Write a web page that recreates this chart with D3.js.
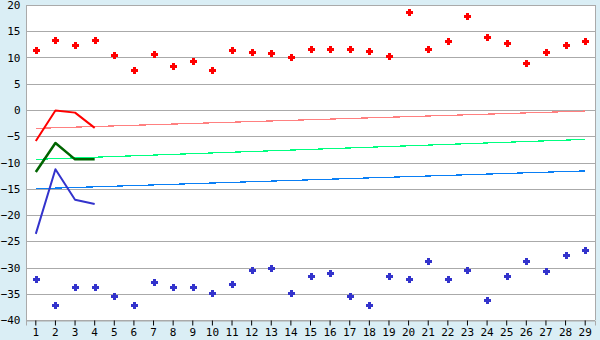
<!DOCTYPE html>
<html><head><meta charset="utf-8">
<script src="https://cdn.jsdelivr.net/npm/d3@7/dist/d3.min.js"></script>
<style>html,body{margin:0;padding:0;background:#daeef5;}svg{display:block;}</style>
</head><body>
<svg id="c" width="600" height="340"></svg>
<script>
const categories = d3.range(1, 30).map(String);
const yTicks = [-40, -35, -30, -25, -20, -15, -10, -5, 0, 5, 10, 15, 20];
const redPoints = [11.5, 13.3, 12.3, 13.3, 10.4, 7.7, 10.6, 8.3, 9.4, 7.7, 11.5, 11.0, 10.8, 10.0,
  11.7, 11.7, 11.7, 11.2, 10.2, 18.6, 11.7, 13.1, 17.9, 13.9, 12.7, 8.9, 11.0, 12.3, 13.1];
const bluePoints = [-32.2, -37.2, -33.8, -33.8, -35.5, -37.2, -32.8, -33.8, -33.8, -34.9, -33.2, -30.5, -30.0, -34.9,
  -31.7, -31.1, -35.5, -37.2, -31.7, -32.2, -28.8, -32.2, -30.5, -36.1, -31.7, -28.8, -30.7, -27.7, -26.7];
const lineCats = ["1", "2", "3", "4"];
const redLine = [-5.9, -0.1, -0.5, -3.4];
const greenLine = [-11.8, -6.3, -9.4, -9.4];
const blueLine = [-23.6, -11.3, -17.1, -17.9];
const trendCats = ["1", "29"];
const redTrend = [-3.5, -0.2];
const greenTrend = [-9.4, -5.6];
const blueTrend = [-15.0, -11.6];

const svg = d3.select("#c");
const L = 26, R = 595, T = 5, B = 320;
const x = d3.scaleBand().domain(categories).range([L, R]);
const cx = c => x(c) + x.bandwidth() / 2;
const y = d3.scaleLinear().domain([-40, 20]).range([B, T]);

svg.append("rect").attr("x", L).attr("y", T).attr("width", R - L).attr("height", B - T).attr("fill", "#fff");

svg.append("g").selectAll("line").data(yTicks).join("line")
  .attr("x1", L).attr("x2", R).attr("y1", d => Math.round(y(d)) + 0.5).attr("y2", d => Math.round(y(d)) + 0.5)
  .attr("stroke", "#aaaaaa").attr("stroke-width", 1);
svg.append("line").attr("x1", R + 0.5).attr("x2", R + 0.5).attr("y1", T).attr("y2", B).attr("stroke", "#aaaaaa");
svg.append("line").attr("x1", L + 0.5).attr("x2", L + 0.5).attr("y1", T).attr("y2", B).attr("stroke", "#aaaaaa");

const yAxis = d3.axisLeft(y).tickValues(yTicks).tickSize(0).tickPadding(5).tickFormat(d3.format("d"));
const gy = svg.append("g").attr("transform", `translate(${L - 0.5},0)`).call(yAxis);
gy.select(".domain").remove();
gy.selectAll("text").attr("font-family", "DejaVu Sans Mono").attr("font-size", 11).attr("fill", "#000");

const xAxis = d3.axisBottom(x).tickSize(5).tickPadding(3);
const gx = svg.append("g").attr("transform", `translate(0,${B + 0.5})`).call(xAxis);
gx.select(".domain").attr("stroke", "#aaaaaa");
gx.selectAll(".tick line").attr("stroke", "#000");
gx.selectAll("text").attr("font-family", "DejaVu Sans Mono").attr("font-size", 11).attr("fill", "#000");

function trend(vals, color) {
  svg.append("path").datum(vals)
    .attr("d", d3.line().x((d, i) => cx(trendCats[i])).y(d => y(d)))
    .attr("fill", "none").attr("stroke", color).attr("stroke-width", 1.2).attr("shape-rendering", "crispEdges");
}
trend(redTrend, "#ff8080");
trend(greenTrend, "#00ff80");
trend(blueTrend, "#0a7ff5");

function line(vals, color, w) {
  svg.append("path").datum(vals)
    .attr("d", d3.line().x((d, i) => cx(lineCats[i])).y(d => y(d)))
    .attr("fill", "none").attr("stroke", color).attr("stroke-width", w).attr("stroke-linejoin", "round");
}
line(redLine, "#ff0000", 2);
line(greenLine, "#006400", 2.5);
line(blueLine, "#3333cc", 2);

// bold plus marker: 7x7 with 3px arms
const markerType = {
  draw(ctx) {
    ctx.moveTo(-1.5, -3.5); ctx.lineTo(1.5, -3.5); ctx.lineTo(1.5, -1.5); ctx.lineTo(3.5, -1.5);
    ctx.lineTo(3.5, 1.5); ctx.lineTo(1.5, 1.5); ctx.lineTo(1.5, 3.5); ctx.lineTo(-1.5, 3.5);
    ctx.lineTo(-1.5, 1.5); ctx.lineTo(-3.5, 1.5); ctx.lineTo(-3.5, -1.5); ctx.lineTo(-1.5, -1.5);
    ctx.closePath();
  }
};
function scatter(vals, color) {
  svg.append("g").selectAll("path").data(vals).join("path")
    .attr("transform", (d, i) => `translate(${Math.round(cx(categories[i])) + 0.5},${Math.round(y(d)) + 0.5})`)
    .attr("d", d3.symbol().type(markerType)())
    .attr("fill", color).attr("shape-rendering", "crispEdges");
}
scatter(redPoints, "#ff0000");
scatter(bluePoints, "#3333cc");
</script>
</body></html>
